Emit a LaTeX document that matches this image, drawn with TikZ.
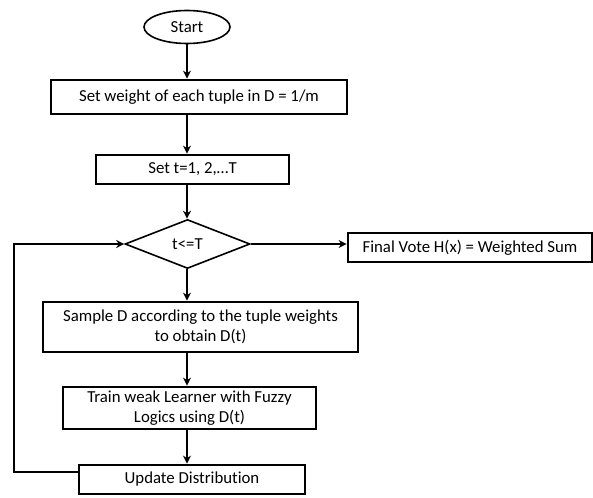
\documentclass[tikz,border=0pt]{standalone}
\usepackage{fontspec}
\setmainfont{Carlito}[Ligatures=NoCommon]
\usetikzlibrary{shapes.geometric,arrows.meta}

\begin{document}
\begin{tikzpicture}[x=1pt, y=-1pt,
    font=\fontsize{16.8}{20}\selectfont,
    box/.style={draw, line width=2.8pt, inner sep=0pt, align=center},
    arr/.style={-{Stealth[length=8pt,width=8pt]}, line width=2.2pt},
    thin/.style={line width=1.6pt}]
    \useasboundingbox (0,0) rectangle (593,497);

    % Start and set-up
    \node[draw, thin, ellipse, inner sep=0pt, minimum width=86, minimum height=33] (start) at (187,27) {Start};
    \node[box, minimum width=296, minimum height=34] (weight) at (199,97) {Set weight of each tuple in D = 1/m};
    \node[box, minimum width=193, minimum height=29] (setT) at (192.5,169.5) {Set t=1, 2,\ldots T};

    % Decision
    \node[draw, thin, diamond, inner sep=0pt, minimum width=125, minimum height=49] (test) at (187.5,244) {t<=T};
    \node[box, minimum width=244, minimum height=29] (vote) at (470,247.5) {Final Vote H(x) = Weighted Sum};

    % Loop body
    \node[box, minimum width=315, minimum height=50] (sample) at (200.5,327) {Sample D according to the tuple weights\\to obtain D(t)};
    \node[box, minimum width=253, minimum height=42] (train) at (189.5,408) {Train weak Learner with Fuzzy\\Logics using D(t)};
    \node[box, minimum width=226, minimum height=29] (update) at (192,479.5) {Update Distribution};

    % Arrows
    \draw[arr] (start.south) -- (start.south |- weight.north);
    \draw[arr] (weight.south -| start.south) -- (setT.north -| start.south);
    \draw[arr] (setT.south -| start.south) -- (test.north -| start.south);
    \draw[arr] (test.south -| start.south) -- (sample.north -| start.south);
    \draw[arr] (sample.south -| start.south) -- (train.north -| start.south);
    \draw[arr] (train.south -| start.south) -- (update.north -| start.south);
    \draw[arr, thin] (test.east) -- (test.east -| vote.west);

    % Back to the test
    \coordinate (back) at (14,472);
    \draw[arr, thin] (update.west |- back) -- (back) |- (test.west);
\end{tikzpicture}
\end{document}
